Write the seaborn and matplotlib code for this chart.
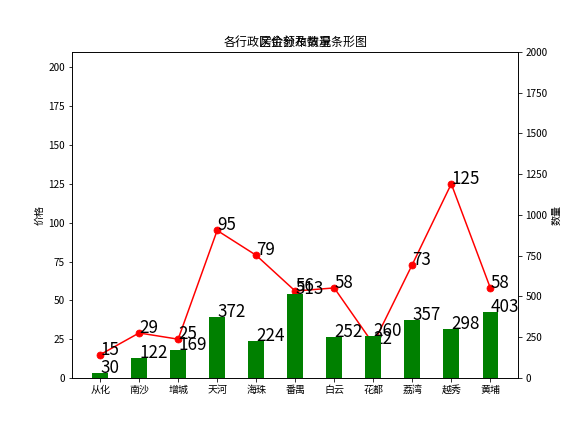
import numpy as np
import pandas as pd
import seaborn as sns
import matplotlib
matplotlib.use("Agg")
import matplotlib.pyplot as plt

# data
districts = ["从化", "南沙", "增城", "天河", "海珠", "番禺", "白云", "花都", "荔湾", "越秀", "黄埔"]
prices = [15, 29, 25, 95, 79, 56, 58, 22, 73, 125, 58]
counts = [30, 122, 169, 372, 224, 513, 252, 260, 357, 298, 403]

plt.rcParams['font.family'] = ['Noto Sans CJK SC', 'DejaVu Sans']
plt.rcParams['axes.unicode_minus'] = False
label_font = ['Liberation Sans Narrow', 'Noto Sans CJK SC', 'DejaVu Sans']

df = pd.DataFrame({"区域": districts, "价格": prices, "数量": counts, "pos": np.arange(len(districts))})

fig, ax1 = plt.subplots(figsize=(8, 6), dpi=72)
fig.subplots_adjust(left=0.125, right=0.9, bottom=0.125, top=0.88)
ax2 = ax1.twinx()

# price line on the left axis
sns.lineplot(data=df, x="pos", y="价格", ax=ax1, color="red", marker="o",
             markersize=7, markeredgecolor="red", linewidth=1.5)
for i, v in enumerate(prices):
    ax1.text(i, v, str(v), fontsize=17, ha="left", va="baseline", family=label_font)

# count bars on the right axis (drawn over the line)
sns.barplot(data=df, x="pos", y="数量", ax=ax2, color="green", width=0.4,
            saturation=1, native_scale=True)
for i, v in enumerate(counts):
    ax2.text(i, v, str(v), fontsize=17, ha="left", va="baseline", family=label_font)

ax1.set_ylim(0, 210)
ax2.set_ylim(0, 2000)
ax1.set_xlim(-0.72, len(districts) - 1 + 0.72)
ax1.set_xticks(df["pos"])
ax1.set_xticklabels(districts)
ax1.set_xlabel("")
ax2.set_xlabel("")
ax1.set_ylabel("价格")
ax2.set_ylabel("数量")

ax1.set_title("各行政区金额及数量条形图")
ax2.set_title("房价分布情况")

plt.savefig("out.png", dpi=72)
